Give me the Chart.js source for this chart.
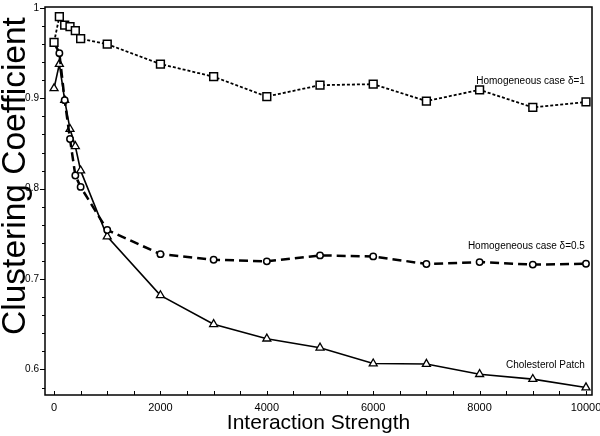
<!DOCTYPE html>
<html>
<head>
<meta charset="utf-8">
<script src="https://cdn.jsdelivr.net/npm/chart.js@4.4.0/dist/chart.umd.min.js"></script>
<style>
html, body { margin: 0; padding: 0; background: #fff; }
</style>
</head>
<body>
<canvas id="chart" width="600" height="436"></canvas>
<script>
// values
var strength = [0, 100, 200, 300, 400, 500, 1000, 2000, 3000, 4000, 5000, 6000, 7000, 8000, 9000, 10000];
var homogeneous1 = [0.962, 0.9905, 0.981, 0.9795, 0.975, 0.966, 0.960, 0.938, 0.924, 0.902, 0.9146, 0.9157, 0.897, 0.9094, 0.890, 0.896];
var homogeneous05 = [0.962, 0.950, 0.898, 0.855, 0.8146, 0.802, 0.7543, 0.7276, 0.7214, 0.7196, 0.7262, 0.7251, 0.7167, 0.7188, 0.716, 0.717];
var cholesterol = [0.911, 0.938, 0.898, 0.866, 0.847, 0.820, 0.747, 0.682, 0.650, 0.634, 0.624, 0.6065, 0.606, 0.5947, 0.5893, 0.580];
var seriesLabels = ['Homogeneous case δ=1', 'Homogeneous case δ=0.5', 'Cholesterol Patch'];
var labelX = [9980, 9980, 9980];
var labelY = [0.919, 0.736, 0.6046];

// tick marks (labels only on the major ones)
var xTicks = [0, 500, 1000, 1500, 2000, 2500, 3000, 3500, 4000, 4500, 5000, 5500, 6000, 6500, 7000, 7500, 8000, 8500, 9000, 9500, 10000];
var xTickLabels = [0, 2000, 4000, 6000, 8000, 10000];
var yTicks = [0.58, 0.6, 0.62, 0.64, 0.66, 0.68, 0.7, 0.72, 0.74, 0.76, 0.78, 0.8, 0.82, 0.84, 0.86, 0.88, 0.9, 0.92, 0.94, 0.96, 0.98, 1];
var yTickLabels = [0.6, 0.7, 0.8, 0.9, 1];

var FONT = "'Liberation Sans', Arial, Helvetica, sans-serif";

function pts(ys) {
    return strength.map((x, i) => ({ x: x, y: ys[i] }));
}

// frame, tick marks, y title and curve labels
var decorations = {
    id: 'decorations',
    beforeDraw: function (chart) {
        // y title goes under the tick labels
        var ctx = chart.ctx;
        ctx.save();
        ctx.fillStyle = '#000';
        ctx.translate(24.5, 176);
        ctx.rotate(-Math.PI / 2);
        ctx.font = '33.5px ' + FONT;
        ctx.textAlign = 'center';
        ctx.textBaseline = 'alphabetic';
        ctx.fillText('Clustering Coefficient', 0, 0);
        ctx.restore();
    },
    beforeDatasetsDraw: function (chart) {
        var a = chart.chartArea, ctx = chart.ctx;
        ctx.save();
        ctx.strokeStyle = '#000';
        ctx.lineWidth = 1.5;
        ctx.strokeRect(a.left, a.top, a.right - a.left, a.bottom - a.top);

        ctx.lineWidth = 1;
        var xs = chart.scales.x, ys = chart.scales.y;
        xs.ticks.forEach(t => {
            var px = Math.round(xs.getPixelForValue(t.value)) + 0.5;
            ctx.beginPath();
            ctx.moveTo(px, a.bottom);
            ctx.lineTo(px, a.bottom - 4);
            ctx.stroke();
        });
        ys.ticks.forEach(t => {
            var py = Math.round(ys.getPixelForValue(t.value)) + 0.5;
            var len = yTickLabels.includes(t.value) ? 5 : 3;
            ctx.beginPath();
            ctx.moveTo(a.left - len, py);
            ctx.lineTo(a.left, py);
            ctx.stroke();
        });
        ctx.restore();
    },
    afterDraw: function (chart) {
        var ctx = chart.ctx;
        ctx.save();
        ctx.fillStyle = '#000';
        ctx.font = '10px ' + FONT;
        ctx.textAlign = 'right';
        ctx.textBaseline = 'middle';
        seriesLabels.forEach((txt, i) => {
            ctx.fillText(txt, chart.scales.x.getPixelForValue(labelX[i]), chart.scales.y.getPixelForValue(labelY[i]));
        });
        ctx.restore();
    }
};

new Chart(document.getElementById('chart').getContext('2d'), {
    type: 'line',
    data: {
        datasets: [
            { label: seriesLabels[0], data: pts(homogeneous1), borderColor: '#000', borderWidth: 1.8, borderDash: [3, 2], pointStyle: 'rect', pointRadius: 5.5, pointBorderWidth: 1.5, pointBackgroundColor: '#fff', pointBorderColor: '#000' },
            { label: seriesLabels[1], data: pts(homogeneous05), borderColor: '#000', borderWidth: 2.5, borderDash: [9, 5], pointStyle: 'circle', pointRadius: 3.2, pointBorderWidth: 1.5, pointBackgroundColor: '#fff', pointBorderColor: '#000' },
            { label: seriesLabels[2], data: pts(cholesterol), borderColor: '#000', borderWidth: 1.6, pointStyle: 'triangle', pointRadius: 4.6, pointBorderWidth: 1.3, pointBackgroundColor: '#fff', pointBorderColor: '#000' }
        ]
    },
    options: {
        responsive: false,
        animation: false,
        devicePixelRatio: 1,
        clip: false,
        layout: { padding: { top: 3, right: 8, left: 0, bottom: 0 } },
        plugins: { legend: { display: false }, tooltip: { enabled: false } },
        scales: {
            x: {
                type: 'linear',
                min: -170,
                max: 10113,
                grid: { display: false, drawTicks: false },
                border: { display: false },
                ticks: {
                    autoSkip: false,
                    maxRotation: 0,
                    padding: 6,
                    color: '#000',
                    font: { family: FONT, size: 11 },
                    callback: v => (xTickLabels.includes(v) ? String(v) : '')
                },
                afterBuildTicks: s => { s.ticks = xTicks.map(v => ({ value: v })); },
                title: {
                    display: true,
                    text: 'Interaction Strength',
                    color: '#000',
                    font: { family: FONT, size: 21, lineHeight: 1 },
                    padding: { top: 0, bottom: 2 }
                },
                afterFit: s => { s.height = 41; s.paddingLeft = 0; s.paddingRight = 0; }
            },
            y: {
                min: 0.5717,
                max: 1.0011,
                grid: { display: false, drawTicks: false },
                border: { display: false },
                ticks: {
                    autoSkip: false,
                    padding: 6,
                    color: '#000',
                    font: { family: FONT, size: 10 },
                    callback: v => (yTickLabels.includes(v) ? String(v) : '')
                },
                afterBuildTicks: s => { s.ticks = yTicks.map(v => ({ value: v })); },
                afterFit: s => { s.width = 45; s.paddingTop = 0; s.paddingBottom = 0; }
            }
        }
    },
    plugins: [decorations]
});
</script>
</body>
</html>
